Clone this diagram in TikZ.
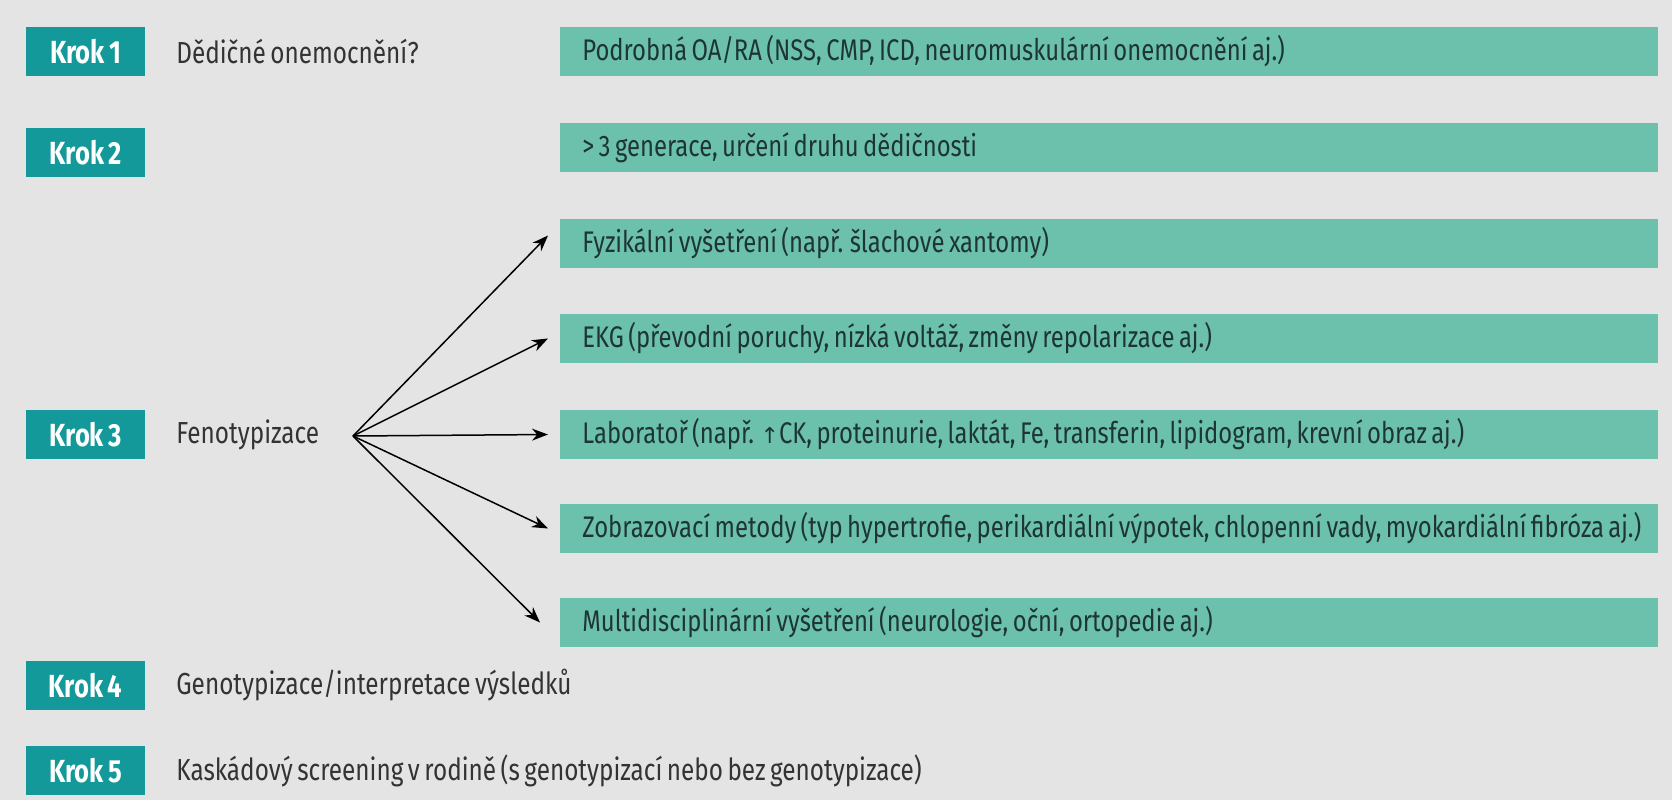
\documentclass[tikz,border=0pt]{standalone}
\usepackage{fontspec}
\setmainfont[FakeStretch=0.80,WordSpace=0.7]{Fira Sans}
\usetikzlibrary{arrows.meta}
\definecolor{bg}{HTML}{E4E4E4}
\definecolor{krokc}{HTML}{14999A}
\definecolor{boxc}{HTML}{6CC1AC}
\definecolor{boxtext}{HTML}{1E3535}
\definecolor{lefttext}{HTML}{333333}
\tikzset{
  krok/.style={fill=krokc, minimum width=59.5pt, minimum height=24.5pt, inner sep=0pt,
    text=white, font=\fontsize{16}{18}\selectfont\bfseries},
  rbox/.style={fill=boxc, anchor=west, minimum width=549pt, minimum height=24.5pt, inner sep=0pt},
  rtext/.style={anchor=west, inner sep=0pt, text=boxtext, font=\fontsize{14.9}{17}\selectfont},
  ltext/.style={anchor=west, inner sep=0pt, text=lefttext, font=\fontsize{15.2}{17}\selectfont},
  arr/.style={-{Stealth[length=8pt,width=6pt]}, line width=0.75pt, black}
}
\begin{document}
\begin{tikzpicture}[x=0.5pt,y=-0.5pt]
\fill[bg] (0,0) rectangle (1672,800);
\useasboundingbox (0,0) rectangle (1672,800);
% Krok boxes
\node[krok] (k1) at (85.5,51.5) {Krok 1};
\node[krok] (k2) at (85.5,152.5) {Krok 2};
\node[krok] (k3) at (85.5,434.5) {Krok 3};
\node[krok] (k4) at (85.5,685.5) {Krok 4};
\node[krok] (k5) at (85.5,770.5) {Krok 5};
% left texts
\node[ltext] (t1) at (176,51.5) {Dědičné onemocnění?};
\node[ltext] (t3) at (176,434.5) {Fenotypizace};
\node[ltext] (t4) at (176,685.5) {Genotypizace/interpretace výsledků};
\node[ltext] (t5) at (176,770.5) {Kaskádový screening v rodině (s genotypizací nebo bez genotypizace)};
% right boxes
\node[rbox] (b1) at (560,51.5) {};
\node[rbox] (b2) at (560,147.5) {};
\node[rbox] (b3) at (560,243.5) {};
\node[rbox] (b4) at (560,338.5) {};
\node[rbox] (b5) at (560,434.5) {};
\node[rbox] (b6) at (560,528.5) {};
\node[rbox] (b7) at (560,622.5) {};
\node[rtext] (r1) at ([xshift=11pt]b1.west) {Podrobná OA/RA (NSS, CMP, ICD, neuromuskulární onemocnění aj.)};
\node[rtext] (r2) at ([xshift=11pt]b2.west) {> 3 generace, určení druhu dědičnosti};
\node[rtext] (r3) at ([xshift=11pt]b3.west) {Fyzikální vyšetření (např. šlachové xantomy)};
\node[rtext] (r4) at ([xshift=11pt]b4.west) {EKG (převodní poruchy, nízká voltáž, změny repolarizace aj.)};
\node[rtext] (r5) at ([xshift=11pt]b5.west) {Laboratoř (např. {\fontspec{DejaVu Sans}\fontsize{11}{12}\selectfont ↑}CK, proteinurie, laktát, Fe, transferin, lipidogram, krevní obraz aj.)};
\node[rtext] (r6) at ([xshift=11pt]b6.west) {Zobrazovací metody (typ hypertrofie, perikardiální výpotek, chlopenní vady, myokardiální fibróza aj.)};
\node[rtext] (r7) at ([xshift=11pt]b7.west) {Multidisciplinární vyšetření (neurologie, oční, ortopedie aj.)};
% fan
\coordinate (o) at (353,436);
\draw[arr] (o) -- ([xshift=-6pt,yshift=4pt]b3.west);
\draw[arr] (o) -- ([xshift=-6pt]b4.west);
\draw[arr] (o) -- ([xshift=-6pt]b5.west);
\draw[arr] (o) -- ([xshift=-6pt]b6.west);
\draw[arr] (o) -- ([xshift=-10pt]b7.west);
\end{tikzpicture}
\end{document}
